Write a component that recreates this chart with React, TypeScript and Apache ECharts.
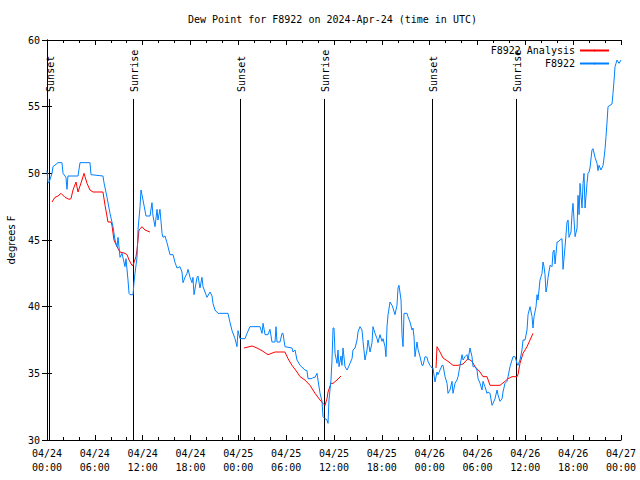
import React, { useEffect, useRef } from "react";
import * as echarts from "echarts";

// hours since 2024-04-24 00:00 UTC, dew point in °F
const observed: [number, number][] = [
  [0, 50.2], [0.13, 49.3], [0.25, 49.3], [0.63, 50.0], [0.75, 50.5], [1.38, 50.8], [1.88, 50.8], [2.01, 50.0], [2.38, 49.7], [2.51, 48.8],
  [2.63, 49.8], [3.89, 49.8], [4.14, 50.8], [5.39, 50.8], [5.52, 49.9], [7.02, 49.8], [7.15, 49.3], [7.53, 48.2], [7.9, 47.0], [8.28, 46.0],
  [8.53, 45.0], [8.78, 44.5], [8.91, 45.2], [9.16, 43.7], [9.41, 44.0], [9.78, 43.0], [9.91, 43.6], [10.16, 42.0], [10.29, 41.0], [10.41, 40.9],
  [10.79, 40.9], [10.91, 41.8], [11.04, 42.5], [11.29, 43.7], [11.42, 45.8], [11.67, 47.5], [11.79, 48.75], [12.04, 48.0], [12.42, 46.8], [12.92, 46.8],
  [13.17, 47.8], [13.3, 46.8], [13.55, 46.0], [13.8, 47.3], [13.92, 46.5], [14.17, 47.3], [14.43, 45.5], [14.55, 45.2], [14.8, 45.3], [15.05, 44.8],
  [15.43, 43.9], [15.81, 43.9], [16.06, 43.3], [16.31, 42.9], [16.68, 43.0], [16.93, 42.6], [17.06, 41.8], [17.31, 42.2], [17.56, 42.5], [17.69, 42.8],
  [17.94, 42.2], [18.19, 41.8], [18.31, 42.2], [18.44, 40.9], [18.82, 42.2], [18.94, 42.3], [19.19, 41.4], [19.44, 42.2], [19.57, 41.5], [19.82, 41.1],
  [20.07, 40.7], [20.45, 41.1], [20.7, 40.8], [20.82, 40.25], [21.07, 39.75], [21.45, 39.5], [22.7, 39.5], [22.96, 38.8], [23.21, 38.2], [23.58, 37.6],
  [23.83, 37.0], [23.96, 38.2], [24.21, 37.6], [24.84, 37.6], [25.09, 38.0], [25.46, 38.5], [26.72, 38.5], [26.97, 38.0], [27.1, 38.75], [27.35, 37.9],
  [27.72, 37.9], [27.97, 38.3], [28.22, 37.35], [28.6, 37.35], [28.73, 38.5], [28.85, 37.35], [29.23, 37.35], [29.48, 38.0], [29.6, 38.0], [29.85, 37.0],
  [30.73, 36.9], [30.86, 36.6], [31.11, 36.75], [31.36, 36.0], [31.74, 35.6], [32.36, 35.25], [32.61, 35.2], [32.74, 34.6], [33.24, 34.6], [33.37, 34.7],
  [33.62, 34.7], [33.87, 35.0], [33.99, 34.5], [34.25, 33.5], [34.5, 32.9], [34.62, 31.75], [34.87, 31.6], [35.12, 31.5], [35.25, 31.25], [35.37, 33.0],
  [35.62, 34.5], [35.75, 36.0], [35.88, 38.4], [36.0, 38.4], [36.13, 36.5], [36.38, 35.75], [36.5, 36.75], [36.63, 35.5], [36.88, 36.3], [37.0, 35.6],
  [37.13, 36.9], [37.38, 35.5], [37.63, 35.25], [37.76, 35.4], [38.01, 35.75], [38.26, 36.1], [38.38, 36.75], [38.64, 36.9], [38.89, 37.5], [39.01, 38.1],
  [39.26, 38.5], [39.51, 38.25], [39.64, 37.4], [39.89, 36.0], [40.14, 36.75], [40.27, 37.5], [40.52, 36.6], [40.77, 37.3], [40.89, 38.5], [41.14, 38.0],
  [41.4, 37.6], [41.52, 37.3], [41.77, 37.9], [42.02, 37.4], [42.15, 37.6], [42.4, 37.0], [42.52, 36.25], [42.65, 38.5], [42.78, 39.4], [43.03, 40.35],
  [43.28, 40.1], [43.4, 39.9], [43.65, 39.4], [43.9, 40.1], [44.03, 41.4], [44.15, 41.6], [44.41, 40.5], [44.53, 37.9], [44.66, 37.0], [44.78, 39.5],
  [45.16, 39.5], [45.28, 39.25], [45.53, 38.85], [45.79, 38.25], [45.91, 38.4], [46.04, 37.7], [46.16, 36.25], [46.41, 37.35], [46.54, 36.8], [46.79, 36.25],
  [47.04, 35.6], [47.17, 35.6], [47.42, 36.25], [47.67, 36.2], [47.79, 35.9], [48.04, 35.6], [48.29, 35.4], [48.42, 35.4], [48.67, 34.35], [48.92, 35.1],
  [49.05, 34.9], [49.3, 35.25], [49.55, 35.6], [49.68, 35.6], [49.93, 34.75], [50.18, 34.25], [50.3, 33.5], [50.55, 33.75], [50.8, 34.4], [50.93, 33.5],
  [51.18, 34.25], [51.43, 34.5], [51.56, 34.75], [51.81, 35.6], [52.06, 36.4], [52.19, 36.0], [52.44, 36.25], [52.69, 36.4], [52.81, 36.0], [53.06, 36.9],
  [53.31, 36.25], [53.44, 35.5], [53.69, 35.5], [53.94, 35.25], [54.07, 34.6], [54.32, 34.25], [54.57, 33.75], [54.69, 34.4], [54.94, 34.0], [55.19, 33.5],
  [55.32, 33.6], [55.57, 33.5], [55.82, 32.6], [55.95, 32.75], [56.2, 33.1], [56.45, 33.75], [56.57, 33.4], [56.82, 32.9], [57.08, 33.1], [57.2, 33.6],
  [57.45, 34.25], [57.7, 34.4], [57.83, 34.75], [58.08, 35.5], [58.33, 36.0], [58.46, 36.25], [58.71, 36.25], [58.96, 35.75], [59.08, 35.6], [59.33, 36.0],
  [59.58, 36.75], [59.71, 37.5], [59.96, 37.5], [60.21, 38.25], [60.34, 39.4], [60.59, 40.0], [60.84, 39.25], [60.96, 38.4], [61.09, 39.25], [61.34, 40.0],
  [61.47, 40.9], [61.59, 40.5], [61.84, 42.0], [61.97, 42.25], [62.09, 42.5], [62.22, 43.35], [62.34, 43.0], [62.47, 42.4], [62.59, 41.1], [62.72, 41.5],
  [62.85, 42.2], [63.1, 43.1], [63.35, 43.0], [63.47, 44.1], [63.6, 44.25], [63.73, 43.2], [63.98, 44.85], [64.1, 44.85], [64.35, 45.0], [64.6, 45.1],
  [64.73, 42.8], [64.98, 44.5], [65.23, 46.35], [65.36, 46.5], [65.48, 45.2], [65.73, 45.6], [65.86, 47.0], [65.98, 47.75], [66.24, 45.25], [66.49, 45.9],
  [66.61, 48.35], [66.74, 46.9], [66.86, 49.25], [67.11, 47.4], [67.24, 49.25], [67.36, 50.0], [67.49, 47.4], [67.74, 49.25], [67.86, 50.0], [67.99, 50.1],
  [68.11, 50.4], [68.36, 51.75], [68.49, 51.85], [68.74, 51.2], [68.99, 50.75], [69.12, 50.2], [69.24, 50.6], [69.49, 50.25], [69.75, 50.6], [69.87, 51.15],
  [70.0, 51.85], [70.12, 52.75], [70.25, 53.85], [70.37, 55.0], [70.62, 55.1], [70.87, 55.2], [71.0, 56.0], [71.13, 57.0], [71.25, 58.0], [71.38, 58.25],
  [71.5, 58.5], [71.75, 58.25], [72.0, 58.5],
];

const analysisNight1: [number, number][] = [
  [0.63, 47.85], [1.0, 48.2], [1.38, 48.3], [1.76, 48.5], [2.26, 48.2], [2.76, 48.05], [3.01, 48.1], [3.26, 48.75], [3.64, 49.35], [3.89, 48.6],
  [4.39, 49.5], [4.64, 50.0], [5.02, 49.25], [5.39, 48.75], [5.77, 48.6], [7.02, 48.6], [7.28, 47.6], [7.65, 46.35], [8.03, 46.35], [8.15, 46.1],
  [8.4, 45.0], [8.78, 44.5], [9.16, 44.1], [9.78, 44.0], [10.04, 43.9], [10.29, 43.5], [10.66, 43.1], [10.79, 43.1], [11.16, 43.75], [11.29, 44.25],
  [11.42, 45.0], [11.54, 45.75], [11.92, 46.0], [12.29, 45.75], [12.92, 45.6],
];
const analysisNight2: [number, number][] = [
  [24.71, 36.9], [25.72, 37.05], [26.34, 36.9], [26.97, 36.7], [27.72, 36.4], [28.6, 36.6], [29.85, 36.6], [30.23, 36.1], [30.73, 35.6], [31.36, 35.1],
  [31.74, 34.75], [32.36, 34.5], [32.99, 34.1], [33.62, 33.5], [34.25, 33.0], [34.62, 32.75], [34.87, 32.6], [35.12, 33.1], [35.25, 33.6], [35.62, 34.25],
  [35.88, 34.25], [36.38, 34.5], [36.88, 34.8],
];
const analysisNight3: [number, number][] = [
  [48.8, 35.4], [48.92, 37.0], [49.3, 36.6], [49.68, 36.15], [50.3, 35.9], [50.93, 35.6], [51.56, 35.6], [52.19, 35.7], [52.81, 36.1], [53.31, 35.9],
  [53.69, 35.5], [54.32, 35.1], [54.69, 34.75], [55.19, 34.75], [55.57, 34.1], [56.2, 34.1], [56.82, 34.1], [57.45, 34.4], [57.83, 34.6], [58.33, 34.75],
  [58.96, 34.75], [59.08, 34.9], [59.33, 35.75], [59.71, 36.5], [60.21, 37.0], [60.59, 37.5], [60.96, 38.0],
];

const sunEventHours = [0.28, 10.83, 24.21, 34.78, 48.3, 58.79];
const sunEventNames = ["Sunset", "Sunrise", "Sunset", "Sunrise", "Sunset", "Sunrise"];

const xTickLabels = [
  "04/24\n00:00", "04/24\n06:00", "04/24\n12:00", "04/24\n18:00",
  "04/25\n00:00", "04/25\n06:00", "04/25\n12:00", "04/25\n18:00",
  "04/26\n00:00", "04/26\n06:00", "04/26\n12:00", "04/26\n18:00",
  "04/27\n00:00",
];

const seriesNames = ["F8922 Analysis", "F8922"];
const titleText = "Dew Point for F8922 on 2024-Apr-24 (time in UTC)";
const yAxisTitle = "degrees F";

const MONO = "DejaVu Sans Mono";

export default function App() {
  const ref = useRef<HTMLDivElement>(null);
  useEffect(() => {
    const chart = echarts.init(ref.current!, null, { renderer: "svg" });
    const markerTop = 55.58;
    const gap: any = [18, "-"];
    const gap2: any = [42, "-"];
    const analysisData: any[] = [...analysisNight1, gap, ...analysisNight2, gap2, ...analysisNight3];

    const tickStyle = { color: "#000", width: 1 };
    const option: any = {
      animation: false,
      backgroundColor: "#fff",
      title: {
        text: titleText,
        left: 188,
        top: 14,
        padding: 0,
        textStyle: { fontFamily: MONO, fontSize: 10, fontWeight: "normal", color: "#000" },
      },
      legend: {
        data: seriesNames,
        orient: "vertical",
        align: "right",
        right: 30,
        top: 44,
        padding: 0,
        itemGap: 0,
        itemWidth: 29,
        itemHeight: 2,
        selectedMode: false,
        textStyle: { fontFamily: MONO, fontSize: 10, color: "#000", lineHeight: 13 },
      },
      grid: {
        left: 47,
        top: 40,
        width: 574,
        height: 400,
        containLabel: false,
        outerBoundsMode: "none",
      },
      xAxis: [
        {
          type: "value",
          min: 0,
          max: 72,
          interval: 6,
          position: "bottom",
          axisLine: { show: true, lineStyle: tickStyle },
          axisTick: { show: true, inside: true, length: 5, lineStyle: tickStyle },
          minorTick: { show: true, splitNumber: 3, length: 3, lineStyle: tickStyle },
          splitLine: { show: false },
          axisLabel: {
            margin: 6,
            color: "#000",
            fontFamily: MONO,
            fontSize: 10,
            lineHeight: 14,
            formatter: (v: number) => xTickLabels[Math.round(v / 6)] ?? "",
          },
        },
        {
          type: "value",
          min: 0,
          max: 72,
          interval: 6,
          position: "top",
          axisLine: { show: true, lineStyle: tickStyle },
          axisTick: { show: true, inside: true, length: 5, lineStyle: tickStyle },
          minorTick: { show: true, splitNumber: 3, length: 3, lineStyle: tickStyle },
          splitLine: { show: false },
          axisLabel: { show: false },
        },
      ],
      yAxis: [
        {
          type: "value",
          min: 30,
          max: 60,
          interval: 5,
          position: "left",
          name: yAxisTitle,
          nameLocation: "middle",
          nameRotate: 90,
          nameGap: 31,
          nameTextStyle: { fontFamily: "DejaVu Sans", fontSize: 10, color: "#000" },
          axisLine: { show: true, lineStyle: tickStyle },
          axisTick: { show: true, inside: true, length: 5, lineStyle: tickStyle },
          splitLine: { show: false },
          axisLabel: { margin: 7, color: "#000", fontFamily: MONO, fontSize: 10 },
        },
        {
          type: "value",
          min: 30,
          max: 60,
          interval: 5,
          position: "right",
          axisLine: { show: true, lineStyle: tickStyle },
          axisTick: { show: true, inside: true, length: 5, lineStyle: tickStyle },
          splitLine: { show: false },
          axisLabel: { show: false },
        },
      ],
      series: [
        {
          type: "custom",
          name: "sun",
          xAxisIndex: 0,
          yAxisIndex: 0,
          silent: true,
          z: 1,
          data: sunEventHours.map((h) => [h, 30]),
          encode: { x: 0, y: 1 },
          renderItem: (params: any, api: any) => {
            const h = api.value(0);
            const bottom = api.coord([h, 30]);
            const top = api.coord([h, markerTop]);
            const x = Math.round(bottom[0]) + 0.5;
            return {
              type: "group",
              children: [
                {
                  type: "line",
                  shape: { x1: x, y1: bottom[1], x2: x, y2: top[1] },
                  style: { stroke: "#000", lineWidth: 1 },
                },
                {
                  type: "text",
                  x: x + 1,
                  y: top[1] - 7,
                  rotation: Math.PI / 2,
                  style: {
                    text: sunEventNames[params.dataIndex],
                    align: "left",
                    verticalAlign: "middle",
                    fontFamily: MONO,
                    fontSize: 10,
                    fill: "#000",
                  },
                },
              ],
            };
          },
        },
        {
          type: "line",
          name: seriesNames[0],
          xAxisIndex: 0,
          yAxisIndex: 0,
          data: analysisData,
          symbol: "none",
          showSymbol: false,
          connectNulls: false,
          lineStyle: { color: "#ff0000", width: 1 },
          itemStyle: { color: "#ff0000" },
          emphasis: { disabled: true },
          z: 2,
        },
        {
          type: "line",
          name: seriesNames[1],
          xAxisIndex: 0,
          yAxisIndex: 0,
          data: observed,
          symbol: "none",
          showSymbol: false,
          lineStyle: { color: "#0080ff", width: 1 },
          itemStyle: { color: "#0080ff" },
          emphasis: { disabled: true },
          z: 3,
        },
      ],
    };
    chart.setOption(option);
    return () => chart.dispose();
  }, []);
  return (
    <div
      ref={ref}
      style={{ position: "absolute", left: 0, top: 0, width: 640, height: 480 }}
    />
  );
}
